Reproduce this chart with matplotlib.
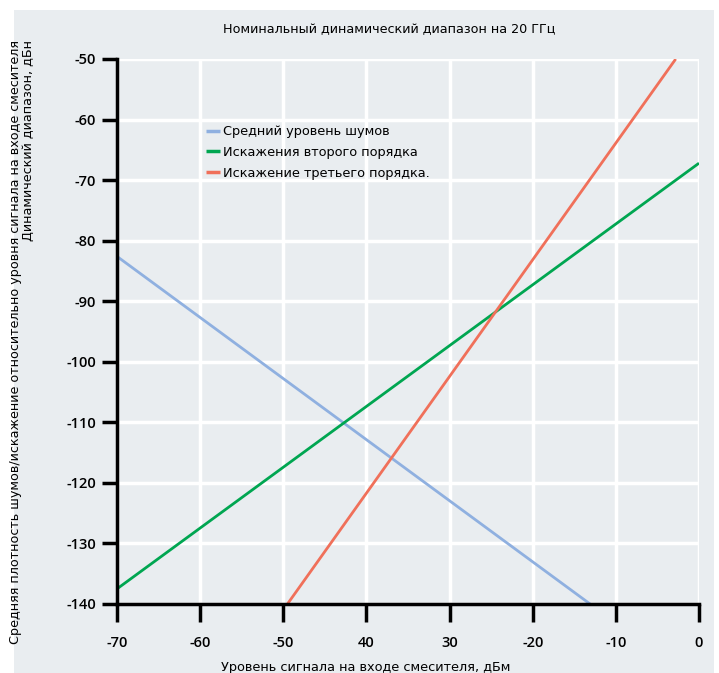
import matplotlib
matplotlib.use("Agg")
import matplotlib.pyplot as plt
from matplotlib.patches import Rectangle

plt.rcParams['font.family'] = ['DejaVu Sans']
plt.rcParams['axes.unicode_minus'] = False

# данные
x_ticks = [-70, -60, -50, -40, -30, -20, -10, 0]
x_tick_labels = ['-70', '-60', '-50', '40', '30', '-20', '-10', '0']
y_ticks = [-50, -60, -70, -80, -90, -100, -110, -120, -130, -140]

shum_x = [-70, -13.1]
shum_y = [-82.6, -140]
vtoroy_x = [-70, 0]
vtoroy_y = [-137.5, -67.2]
tretiy_x = [-49.5, -2.8]
tretiy_y = [-140, -50]

names = ['Средний уровень шумов', 'Искажения второго порядка', 'Искажение третьего порядка.']
colors = ['#8fb0e0', '#00a651', '#f0705a']

bg = '#e9edf0'

fig = plt.figure(figsize=(7.19, 6.73), dpi=100)
fig.patch.set_facecolor('white')
fig.patches.append(Rectangle((14/719, 0), 700/719, 1 - 10/673, transform=fig.transFigure,
                             facecolor=bg, edgecolor='none', zorder=-5))

ax = fig.add_axes([117/719, 1 - 604/673, 582/719, 545/673])
ax.set_facecolor(bg)
ax.set_zorder(2)

ax.plot(shum_x, shum_y, color=colors[0], lw=2.0, label=names[0], solid_capstyle='butt')
ax.plot(vtoroy_x, vtoroy_y, color=colors[1], lw=2.0, label=names[1], solid_capstyle='butt')
ax.plot(tretiy_x, tretiy_y, color=colors[2], lw=2.0, label=names[2], solid_capstyle='butt')

ax.set_xlim(-70, 0)
ax.set_ylim(-140, -50)
ax.set_xticks(x_ticks)
ax.set_xticklabels(x_tick_labels)
ax.set_yticks(y_ticks)
ax.grid(True, color='white', lw=2.5)
ax.set_axisbelow(True)

for s in ['top', 'right']:
    ax.spines[s].set_visible(False)
for s in ['left', 'bottom']:
    ax.spines[s].set_linewidth(2.5)
    ax.spines[s].set_color('black')

ax.tick_params(axis='x', length=13, width=2.5, pad=10, labelsize=10.5, colors='black')
ax.tick_params(axis='y', length=11, width=2.5, pad=4, labelsize=10.5, colors='black')
for lab in ax.get_xticklabels() + ax.get_yticklabels():
    lab.set_family('Open Sans')
    lab.set_fontweight('semibold')

leg = ax.legend(loc='upper left', bbox_to_anchor=(0.144, 0.888), frameon=False,
                prop={'family': 'DejaVu Sans', 'size': 9.3},
                handlelength=1.1, handletextpad=0.25, labelspacing=0.6,
                borderaxespad=0)
for h in leg.get_lines():
    h.set_linewidth(2.5)

fig.text(389/719, 1 - 30/673, 'Номинальный динамический диапазон на 20 ГГц',
         ha='center', va='center', fontsize=9.2)
fig.text(22/719, 1 - 40/673,
         'Средняя плотность шумов/искажение относительно уровня сигнала на входе смесителя\nДинамический диапазон, дБн',
         rotation=90, ha='center', va='top', multialignment='right', fontsize=9.2, linespacing=1.0)
fig.text(366/719, 1 - 668/673, 'Уровень сигнала на входе смесителя, дБм',
         ha='center', va='center', fontsize=9.3)

fig.savefig('out.png', dpi=100, facecolor=fig.get_facecolor())
